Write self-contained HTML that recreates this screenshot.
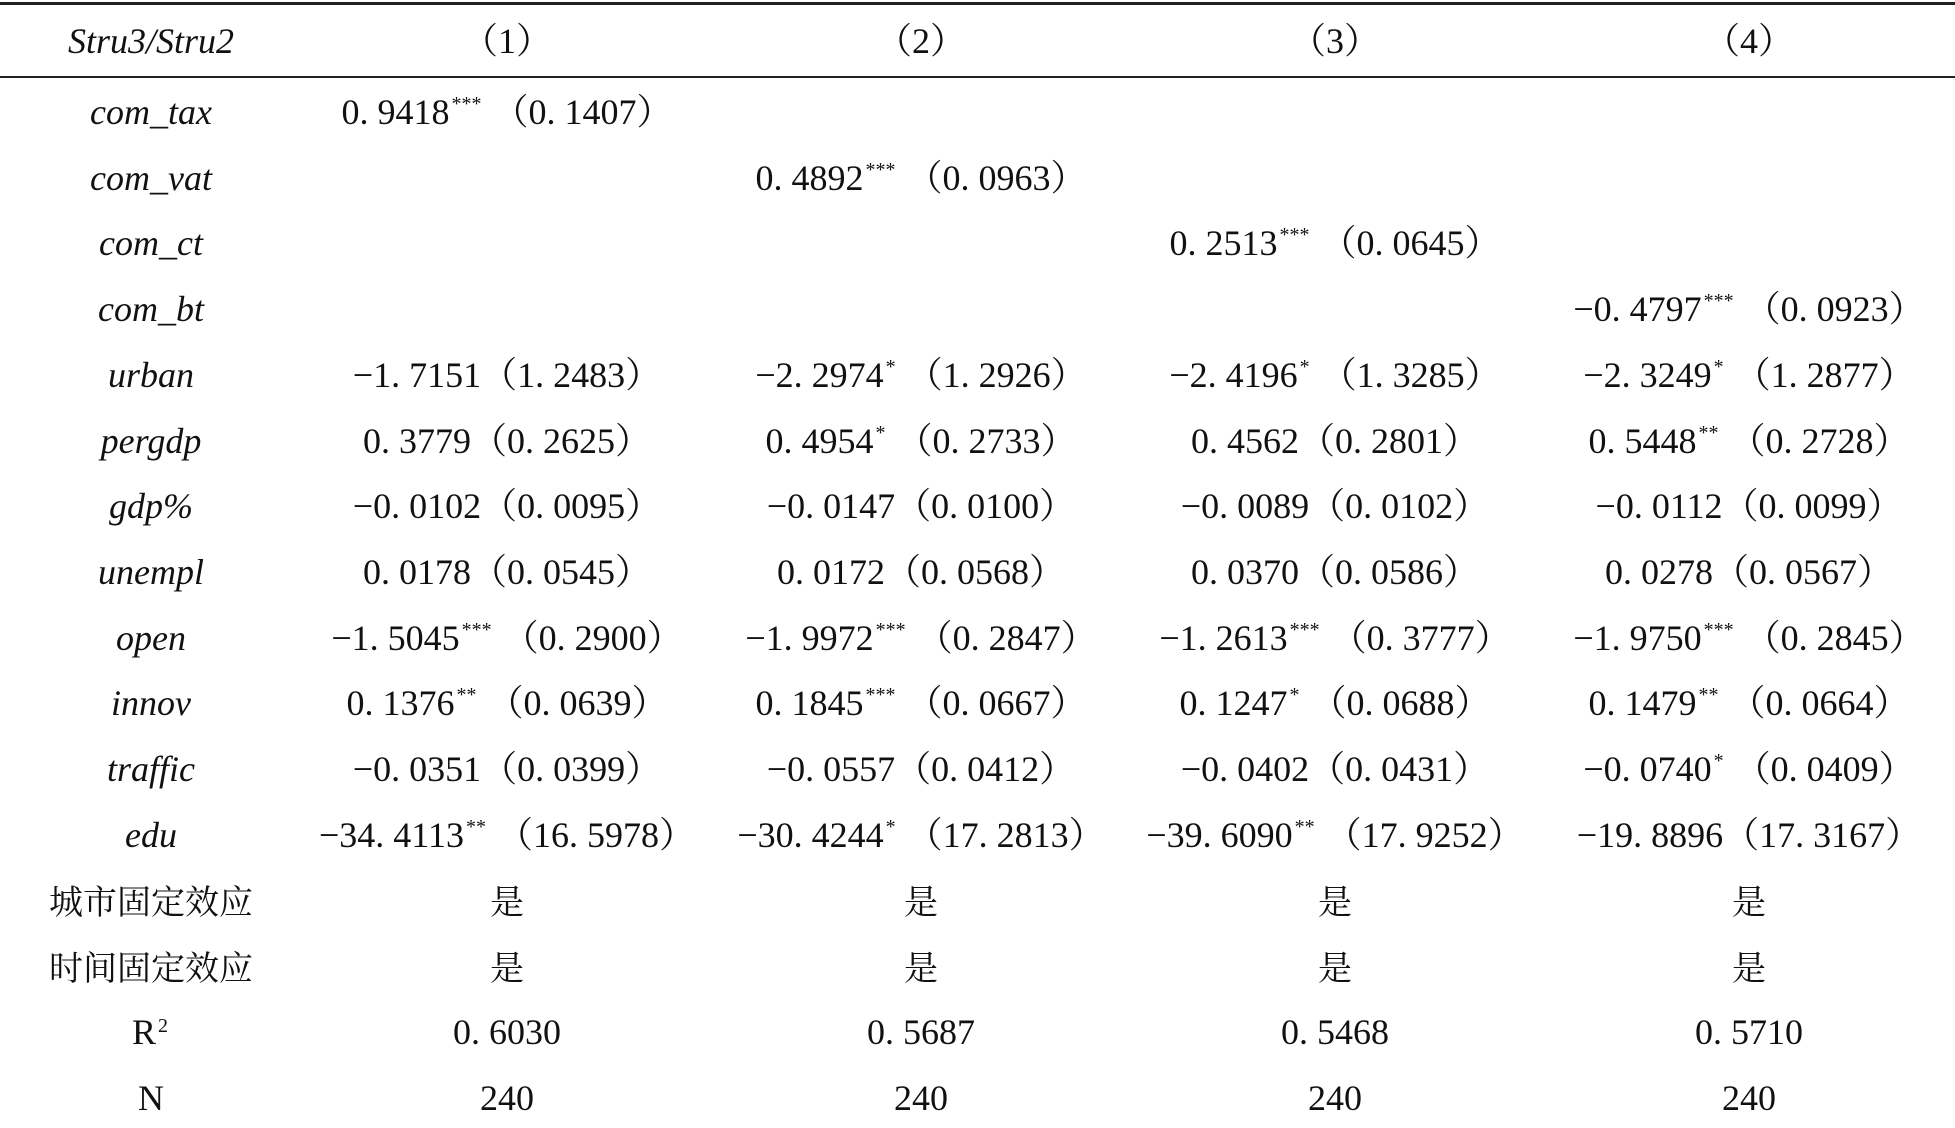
<!DOCTYPE html>
<html><head><meta charset="utf-8">
<style>
html,body{margin:0;padding:0;background:#fff;}
#t{position:relative;width:1955px;height:1128px;overflow:hidden;font-family:"Liberation Serif","Noto Serif CJK SC",serif;color:#111;font-size:36px;}
.c{position:absolute;transform:translate(-50%,-50%);white-space:pre;line-height:1;}
.lab{font-style:italic;}
.cjk{font-family:"Noto Serif CJK SC","Noto Sans CJK SC",serif;font-size:34px;}
sup{font-size:20px;vertical-align:14px;line-height:0;margin:0 2px;}
.line{position:absolute;left:0;width:1955px;background:#222;}
</style></head>
<body>
<div id="t">
<div class="line" style="top:2px;height:3px"></div>
<div class="line" style="top:76px;height:2px"></div>
</div>
<script>
const colX=[151,507,921,1335,1749];
const headerY=41;
const rowY0=112, rowStep=65.7;
const headers=["Stru3/Stru2","（1）","（2）","（3）","（4）"];
const labels=["com_tax","com_vat","com_ct","com_bt","urban","pergdp","gdp%","unempl","open","innov","traffic","edu","城市固定效应","时间固定效应","R2","N"];
const rows=[
["0. 9418|***|（0. 1407）","","",""],
["","0. 4892|***|（0. 0963）","",""],
["","","0. 2513|***|（0. 0645）",""],
["","","","−0. 4797|***|（0. 0923）"],
["−1. 7151||（1. 2483）","−2. 2974|*|（1. 2926）","−2. 4196|*|（1. 3285）","−2. 3249|*|（1. 2877）"],
["0. 3779||（0. 2625）","0. 4954|*|（0. 2733）","0. 4562||（0. 2801）","0. 5448|**|（0. 2728）"],
["−0. 0102||（0. 0095）","−0. 0147||（0. 0100）","−0. 0089||（0. 0102）","−0. 0112||（0. 0099）"],
["0. 0178||（0. 0545）","0. 0172||（0. 0568）","0. 0370||（0. 0586）","0. 0278||（0. 0567）"],
["−1. 5045|***|（0. 2900）","−1. 9972|***|（0. 2847）","−1. 2613|***|（0. 3777）","−1. 9750|***|（0. 2845）"],
["0. 1376|**|（0. 0639）","0. 1845|***|（0. 0667）","0. 1247|*|（0. 0688）","0. 1479|**|（0. 0664）"],
["−0. 0351||（0. 0399）","−0. 0557||（0. 0412）","−0. 0402||（0. 0431）","−0. 0740|*|（0. 0409）"],
["−34. 4113|**|（16. 5978）","−30. 4244|*|（17. 2813）","−39. 6090|**|（17. 9252）","−19. 8896||（17. 3167）"],
["是","是","是","是"],
["是","是","是","是"],
["0. 6030","0. 5687","0. 5468","0. 5710"],
["240","240","240","240"]
];
const T=document.getElementById('t');
function cell(x,y,html,cls){const d=document.createElement('div');d.className='c '+(cls||'');d.style.left=x+'px';d.style.top=y+'px';d.innerHTML=html;T.appendChild(d);return d;}
headers.forEach((h,i)=>{
  const d=cell(colX[i],headerY,h,i===0?'lab':'');
  
  
});
labels.forEach((l,r)=>{
  const y=rowY0+r*rowStep;
  const isCjk=/[\u4e00-\u9fff]/.test(l);
  const html=l==='R2'?'R<sup style="vertical-align:12px">2</sup>':l;
  const d=cell(colX[0],y,html,isCjk?'cjk':(l==='R2'||l==='N'?'':'lab'));
  
  
  rows[r].forEach((v,c)=>{
    if(!v)return;
    let html;
    if(v.indexOf('|')>=0){const p=v.split('|');html=p[0]+(p[1]?'<sup>'+p[1]+'</sup> ':'')+p[2];}
    else html=v;
    const e=cell(colX[c+1],y,html,/[\u4e00-\u9fff]/.test(v)?'cjk':'');
    
    
  });
});
</script>
</body></html>
